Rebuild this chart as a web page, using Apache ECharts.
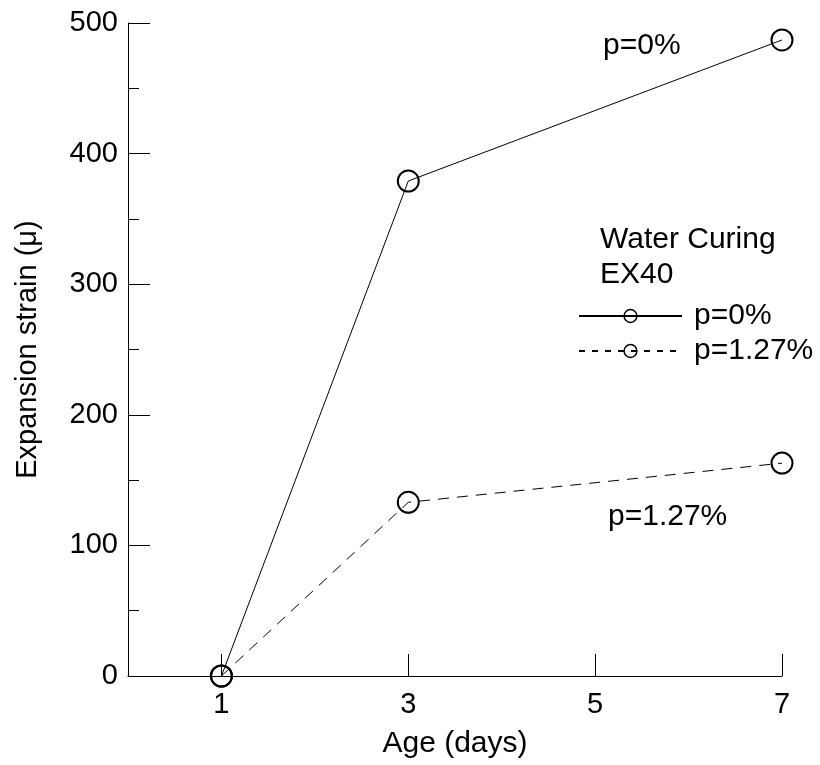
<!DOCTYPE html>
<html>
<head>
<meta charset="utf-8">
<script src="https://cdn.jsdelivr.net/npm/echarts@6/dist/echarts.min.js"></script>
<style>
  html, body { margin: 0; padding: 0; background: #fff; }
  #chart { width: 820px; height: 765px; }
</style>
</head>
<body>
<div id="chart"></div>
<script>
const ages = [1, 3, 7]
const strainP0 = [0, 379, 487]
const strainP127 = [0, 133, 163]
const xTicks = [1, 3, 5, 7]
const seriesNames = ['p=0%', 'p=1.27%']

const font = 'Liberation Sans, Arial, sans-serif'
const chart = echarts.init(document.getElementById('chart'))

chart.setOption({
  animation: false,
  textStyle: { fontFamily: font, color: '#000' },
  grid: { left: 128, right: 38, top: 23, bottom: 89 },
  xAxis: {
    type: 'value',
    min: 0,
    max: 7,
    name: 'Age (days)',
    nameLocation: 'middle',
    nameGap: 53,
    nameTextStyle: { fontSize: 30, color: '#000', fontFamily: font },
    axisLine: { lineStyle: { color: '#000', width: 1 } },
    axisTick: { inside: true, length: 22, customValues: xTicks, lineStyle: { color: '#000' } },
    axisLabel: { customValues: xTicks, fontSize: 29, color: '#000', margin: 14, fontFamily: font },
    splitLine: { show: false }
  },
  yAxis: {
    type: 'value',
    min: 0,
    max: 500,
    interval: 100,
    name: 'Expansion strain (μ)',
    nameLocation: 'middle',
    nameGap: 86,
    nameTextStyle: { fontSize: 29, color: '#000', fontFamily: font },
    axisLine: { show: true, lineStyle: { color: '#000', width: 1 } },
    axisTick: { inside: true, length: 22, lineStyle: { color: '#000' } },
    minorTick: { show: true, splitNumber: 2, length: 11, lineStyle: { color: '#000' } },
    axisLabel: { fontSize: 29, color: '#000', margin: 10, fontFamily: font },
    splitLine: { show: false }
  },
  legend: {
    orient: 'vertical',
    left: 573,
    top: 296,
    itemWidth: 103,
    itemHeight: 16,
    itemGap: 5,
    textStyle: { fontSize: 30, color: '#000', fontFamily: font, padding: [0, 0, 0, 7] },
    itemStyle: { borderWidth: 1.5 },
    data: [
      { name: seriesNames[0] },
      { name: seriesNames[1], lineStyle: { type: [6, 7] } }
    ]
  },
  graphic: [
    { type: 'text', left: 600, top: 222, style: { text: 'Water Curing\nEX40', font: '30px ' + font, fill: '#000', lineHeight: 35 } },
    { type: 'text', left: 603, top: 31, style: { text: 'p=0%', font: '30px ' + font, fill: '#000' } },
    { type: 'text', left: 608, top: 502, style: { text: 'p=1.27%', font: '30px ' + font, fill: '#000' } }
  ],
  series: [
    {
      name: seriesNames[0],
      type: 'line',
      data: ages.map((a, i) => [a, strainP0[i]]),
      symbol: 'circle',
      symbolSize: 21,
      lineStyle: { color: '#000', width: 1 },
      itemStyle: { color: 'rgba(0,0,0,0)', borderColor: '#000', borderWidth: 2 }
    },
    {
      name: seriesNames[1],
      type: 'line',
      data: ages.map((a, i) => [a, strainP127[i]]),
      symbol: 'circle',
      symbolSize: 21,
      lineStyle: { color: '#000', width: 1, type: [11, 8] },
      itemStyle: { color: 'rgba(0,0,0,0)', borderColor: '#000', borderWidth: 2 }
    }
  ]
})
</script>
</body>
</html>
